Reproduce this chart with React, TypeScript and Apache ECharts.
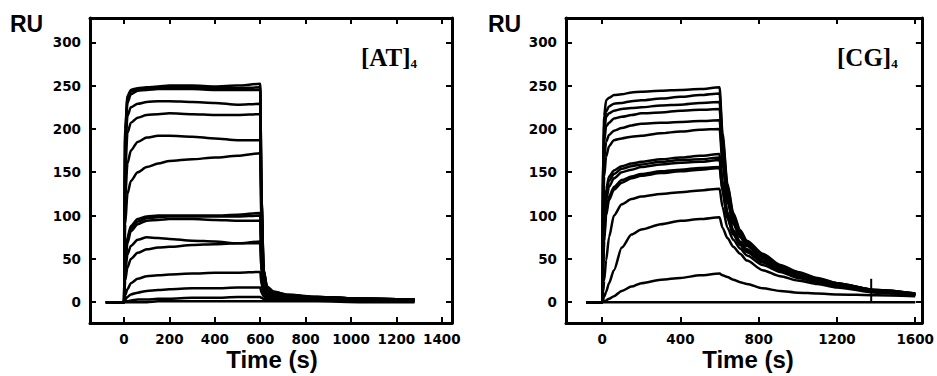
import React, { useEffect, useRef } from "react";
import * as echarts from "echarts";

// ---------- Left panel: [AT]4 ----------
const AT_TIME = [-80, 0, 5, 15, 30, 60, 100, 150, 200, 300, 400, 500, 600, 606, 615, 630, 660, 720, 850, 1050, 1280];
const AT_RESPONSES: number[][] = [
  [0, 0, 200, 238, 245, 247, 248, 249, 250, 250, 249, 250, 252, 120, 38, 18, 12, 9, 6, 4, 3],
  [0, 0, 195, 235, 243, 246, 247, 248, 248, 248, 247, 247, 248, 118, 37, 17, 12, 8, 6, 4, 3],
  [0, 0, 190, 230, 240, 244, 245, 246, 246, 246, 245, 245, 245, 115, 36, 17, 11, 8, 6, 4, 3],
  [0, 0, 170, 215, 225, 229, 231, 232, 232, 231, 230, 228, 229, 108, 34, 16, 11, 8, 6, 4, 3],
  [0, 0, 150, 195, 207, 213, 216, 217, 218, 217, 216, 216, 217, 100, 32, 15, 11, 8, 5, 4, 3],
  [0, 0, 120, 160, 175, 185, 190, 192, 192, 191, 189, 187, 187, 88, 28, 14, 10, 7, 5, 4, 3],
  [0, 0, 90, 125, 140, 150, 156, 160, 163, 165, 167, 169, 172, 80, 26, 13, 10, 7, 5, 4, 2],
  [0, 0, 50, 75, 88, 96, 99, 100, 100, 100, 100, 101, 103, 50, 18, 11, 8, 6, 5, 3, 2],
  [0, 0, 48, 72, 85, 93, 97, 98, 99, 99, 99, 99, 100, 48, 18, 11, 8, 6, 4, 3, 2],
  [0, 0, 45, 68, 82, 90, 94, 95, 96, 96, 95, 94, 94, 45, 17, 10, 8, 6, 4, 3, 2],
  [0, 0, 35, 55, 65, 72, 75, 74, 73, 71, 70, 68, 68, 34, 14, 9, 7, 5, 4, 3, 2],
  [0, 0, 25, 40, 50, 57, 61, 63, 64, 66, 67, 68, 70, 35, 14, 9, 7, 5, 4, 3, 2],
  [0, 0, 8, 15, 22, 27, 30, 31, 32, 33, 34, 34, 35, 20, 10, 7, 5, 4, 3, 2, 2],
  [0, 0, 3, 6, 9, 11, 13, 14, 15, 16, 16, 17, 17, 11, 7, 5, 4, 3, 2, 2, 1],
  [0, 0, 1, 1, 2, 3, 3, 4, 4, 5, 5, 6, 6, 5, 4, 3, 3, 2, 2, 1, 1],
  [0, 0, 0, 0, 0, 0, 0, 1, 1, 1, 1, 1, 1, 1, 1, 1, 1, 1, 1, 0, 0],
];

// ---------- Right panel: [CG]4 ----------
const CG_TIME = [-80, 0, 5, 10, 20, 35, 60, 100, 150, 200, 300, 400, 500, 600, 615, 640, 670, 705, 740, 820, 910, 1000, 1100, 1200, 1400, 1600];
const CG_RESPONSES: number[][] = [
  [0, 0, 160, 215, 233, 236, 239, 240, 242, 243, 244, 245, 246, 248, 195, 137, 103, 83, 71, 56, 43, 35, 28, 22, 14, 10],
  [0, 0, 155, 205, 220, 226, 229, 230, 232, 233, 235, 237, 239, 241, 190, 134, 101, 82, 70, 55, 42, 34, 27, 22, 14, 10],
  [0, 0, 150, 195, 214, 218, 221, 223, 224, 225, 227, 228, 230, 231, 182, 130, 98, 80, 69, 54, 42, 34, 27, 21, 14, 10],
  [0, 0, 140, 185, 203, 207, 212, 214, 216, 218, 219, 221, 222, 223, 176, 126, 96, 79, 68, 53, 41, 33, 27, 21, 13, 9],
  [0, 0, 120, 165, 185, 193, 198, 201, 204, 206, 207, 208, 209, 210, 166, 120, 92, 77, 66, 52, 40, 33, 26, 21, 13, 9],
  [0, 0, 100, 145, 168, 180, 187, 189, 191, 192, 195, 197, 199, 200, 160, 116, 90, 75, 65, 51, 40, 32, 26, 20, 13, 9],
  [0, 0, 60, 100, 130, 145, 152, 157, 160, 162, 165, 167, 169, 171, 140, 104, 83, 70, 61, 48, 38, 31, 25, 20, 13, 9],
  [0, 0, 55, 95, 125, 140, 148, 154, 157, 159, 162, 164, 165, 167, 137, 102, 82, 69, 60, 48, 38, 31, 25, 20, 13, 9],
  [0, 0, 50, 88, 118, 133, 143, 150, 153, 156, 159, 161, 162, 164, 135, 101, 81, 69, 60, 47, 37, 30, 25, 19, 13, 9],
  [0, 0, 40, 75, 105, 122, 133, 141, 145, 148, 151, 153, 155, 156, 129, 98, 79, 67, 58, 46, 37, 30, 24, 19, 12, 9],
  [0, 0, 38, 70, 100, 118, 130, 138, 143, 146, 149, 151, 153, 155, 128, 97, 78, 66, 58, 46, 36, 30, 24, 19, 12, 9],
  [0, 0, 12, 25, 48, 75, 100, 113, 119, 122, 125, 127, 129, 131, 110, 86, 72, 62, 54, 43, 35, 28, 23, 18, 12, 8],
  [0, 0, 3, 6, 12, 22, 37, 63, 78, 84, 90, 94, 96, 98, 86, 74, 64, 56, 48, 37, 30, 25, 21, 17, 11, 8],
  [0, 0, 0.5, 1, 2, 4, 7, 13, 18, 22, 26, 28, 31, 33, 31, 29, 26, 23, 21, 16, 13, 11, 10, 9, 8, 7],
  [0, 0, 0, 0, 0, 0, 0, 0, 0, 0, 0, 0, 0, 0, 0, 0, 0, 0, 0, 0, 0, 0, 0, 0, 0, 0],
];
const CG_SPIKE_TIME = [1375, 1375];
const CG_SPIKE_VALUES = [0, 27];

// ---------- Axes ----------
const Y_MIN = -24;
const Y_MAX = 328;
const Y_TICKS = [0, 50, 100, 150, 200, 250, 300];
const AT_X_MIN = -150;
const AT_X_MAX = 1445;
const AT_X_TICKS = [0, 200, 400, 600, 800, 1000, 1200, 1400];
const CG_X_MIN = -185;
const CG_X_MAX = 1634;
const CG_X_TICKS = [0, 400, 800, 1200, 1600];

const TICK_FONT = { fontFamily: "DejaVu Sans", fontWeight: "bold" as const, fontSize: 13.5, color: "#000" };

function axisBase(ticks: number[], showLabel: boolean, margin: number) {
  return {
    type: "value" as const,
    splitLine: { show: false },
    axisLine: { show: true, onZero: false, lineStyle: { color: "#000", width: 3 } },
    axisTick: { show: true, inside: true, length: 6, lineStyle: { color: "#000", width: 2 }, customValues: ticks },
    axisLabel: {
      show: showLabel,
      margin,
      customValues: ticks,
      formatter: (v: number) => String(v),
      ...TICK_FONT,
    },
  };
}

function buildSeries(time: number[], curves: number[][], axisIdx: number) {
  return curves.map((vals) => ({
    type: "line" as const,
    xAxisIndex: axisIdx,
    yAxisIndex: axisIdx,
    data: time.map((t, i) => [t, vals[i]]),
    showSymbol: false,
    symbol: "none",
    smooth: 0.25,
    smoothMonotone: "x" as const,
    lineStyle: { color: "#000", width: 2.5 },
    silent: true,
  }));
}

const titleRich = {
  a: { fontFamily: "Liberation Serif", fontWeight: "bold", fontSize: 25, fill: "#000", lineHeight: 30 },
  b: { fontFamily: "Liberation Serif", fontWeight: "bold", fontSize: 13, fill: "#000", lineHeight: 30, padding: [12, 0, 0, 0] },
};

export default function App() {
  const ref = useRef<HTMLDivElement>(null);
  useEffect(() => {
    if (!ref.current) return;
    const chart = echarts.init(ref.current, undefined, { renderer: "svg" });
    const option = {
      animation: false,
      backgroundColor: "#fff",
      grid: [
        { left: 90, top: 18, width: 362, height: 305 },
        { left: 566, top: 18, width: 359, height: 305 },
      ],
      xAxis: [
        { ...axisBase(AT_X_TICKS, true, 9), gridIndex: 0, position: "bottom", min: AT_X_MIN, max: AT_X_MAX },
        { ...axisBase(AT_X_TICKS, false, 9), gridIndex: 0, position: "top", min: AT_X_MIN, max: AT_X_MAX },
        { ...axisBase(CG_X_TICKS, true, 9), gridIndex: 1, position: "bottom", min: CG_X_MIN, max: CG_X_MAX },
        { ...axisBase(CG_X_TICKS, false, 9), gridIndex: 1, position: "top", min: CG_X_MIN, max: CG_X_MAX },
      ],
      yAxis: [
        { ...axisBase(Y_TICKS, true, 9), gridIndex: 0, position: "left", min: Y_MIN, max: Y_MAX },
        { ...axisBase(Y_TICKS, false, 9), gridIndex: 0, position: "right", min: Y_MIN, max: Y_MAX },
        { ...axisBase(Y_TICKS, true, 9), gridIndex: 1, position: "left", min: Y_MIN, max: Y_MAX },
        { ...axisBase(Y_TICKS, false, 9), gridIndex: 1, position: "right", min: Y_MIN, max: Y_MAX },
      ],
      series: [
        ...buildSeries(AT_TIME, AT_RESPONSES, 0),
        ...buildSeries(CG_TIME, CG_RESPONSES, 2),
        {
          type: "line",
          xAxisIndex: 2,
          yAxisIndex: 2,
          data: CG_SPIKE_TIME.map((t, i) => [t, CG_SPIKE_VALUES[i]]),
          showSymbol: false,
          symbol: "none",
          lineStyle: { color: "#000", width: 2 },
          silent: true,
        },
      ],
      graphic: [
        {
          type: "text", left: 10, top: 12,
          style: { text: "RU", font: "bold 23px 'Liberation Sans'", fill: "#000" },
        },
        {
          type: "text", left: 488, top: 12,
          style: { text: "RU", font: "bold 23px 'Liberation Sans'", fill: "#000" },
        },
        {
          type: "text", x: 272, y: 359,
          style: { text: "Time (s)", font: "bold 24px 'Liberation Sans'", fill: "#000", align: "center", verticalAlign: "middle" },
        },
        {
          type: "text", x: 748, y: 359,
          style: { text: "Time (s)", font: "bold 24px 'Liberation Sans'", fill: "#000", align: "center", verticalAlign: "middle" },
        },
        {
          type: "text", x: 361, y: 42,
          style: { text: "{a|[AT]}{b|4}", rich: titleRich },
        },
        {
          type: "text", x: 837, y: 42,
          style: { text: "{a|[CG]}{b|4}", rich: titleRich },
        },
      ],
    };
    chart.setOption(option as any);
    return () => chart.dispose();
  }, []);
  return (
    <div
      ref={ref}
      style={{ position: "fixed", left: 0, top: 0, width: 937, height: 376, background: "#fff" }}
    />
  );
}
